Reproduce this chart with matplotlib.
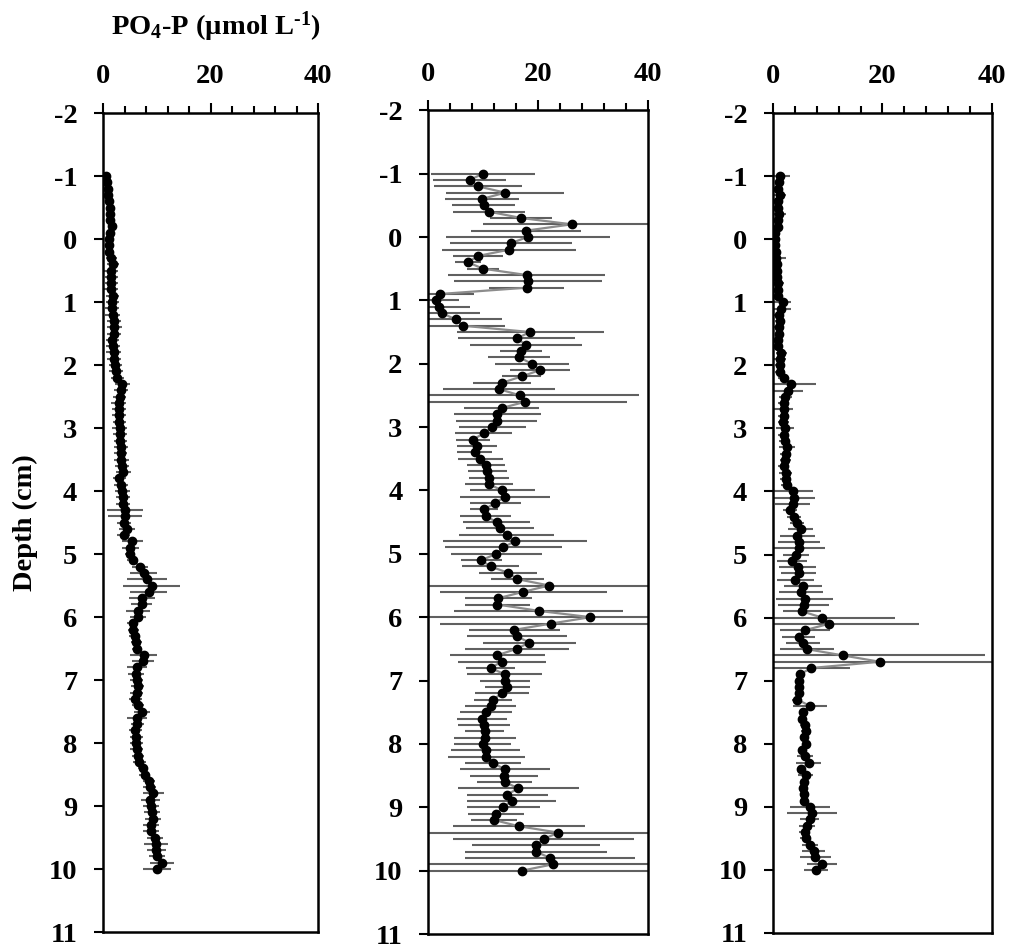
import matplotlib
matplotlib.use('Agg')
import matplotlib.pyplot as plt
import numpy as np
from matplotlib.ticker import MultipleLocator

# depth grid of the porewater profiles (cm), one sample every 0.1 cm
depth = np.round(np.arange(-10, 101) / 10, 1)

# panel 1
po4_a = [0.55, 0.75, 0.85, 1.0, 1.1, 1.25, 1.3, 1.35, 1.75, 1.25,
         1.1, 1.05, 1.1, 1.55, 1.85, 1.55, 1.55, 1.5, 1.55, 1.8,
         1.75, 1.75, 1.85, 2.1, 2.05, 2.0, 1.75, 1.9, 2.0, 2.05,
         2.3, 2.5, 2.65, 3.6, 3.35, 3.1, 2.9, 2.9, 3.0, 3.0,
         3.1, 3.2, 3.2, 3.35, 3.3, 3.35, 3.5, 3.8, 3.05, 3.35,
         3.6, 3.8, 3.65, 4.0, 4.1, 3.95, 4.45, 3.85, 5.45, 5.1,
         5.0, 5.5, 6.95, 7.55, 8.2, 9.1, 8.5, 7.2, 7.2, 6.5,
         6.5, 5.5, 5.65, 5.9, 6.2, 6.3, 7.55, 7.45, 6.3, 6.2,
         6.3, 6.45, 6.3, 6.0, 6.5, 7.25, 6.3, 6.4, 6.0, 6.2,
         6.2, 6.3, 6.5, 6.75, 7.45, 7.75, 8.55, 8.7, 9.3, 8.8,
         9.0, 9.1, 9.25, 9.0, 8.85, 9.65, 9.85, 9.9, 10.05, 10.95,
         10.05]
err_a = [0.3, 0.3, 0.4, 0.4, 0.4, 0.4, 0.4, 0.5,
         0.6, 0.5, 0.5, 0.6, 0.8, 1.0,
         1.2, 1.3, 1.2, 1.2, 1.3, 1.2, 1.2, 1.3, 1.4, 1.3,
         1.4, 1.3, 1.2, 1.3, 1.4, 1.3, 1.2, 1.3, 1.2, 1.4,
         1.3, 1.2, 1.4, 1.3, 1.3, 1.2, 1.4, 1.3, 1.2, 1.3,
         1.2, 1.4, 1.3, 1.45, 1.2, 1.3, 1.4, 1.3, 1.3, 3.35,
         3.2, 1.3, 1.5, 1.2, 2.0, 1.5, 1.0, 1.0, 1.5, 2.55,
         3.7, 5.3, 3.4, 2.4, 2.0, 2.3, 1.5, 1.0, 1.0, 1.0,
         1.0, 1.0, 2.5, 2.0, 1.9, 1.5, 1.2, 1.2, 1.2, 1.2,
         1.2, 1.5, 1.8, 1.2, 1.2, 1.2, 1.2, 1.2, 1.2, 1.2,
         1.0, 1.0, 1.2, 1.2, 1.95, 1.8, 1.5, 1.5, 1.5, 1.5,
         1.5, 1.5, 2.3, 1.8, 1.5, 2.3, 2.65]

# panel 2
po4_b = [10.0, 7.55, 9.05, 14.0, 9.8, 10.1, 11.1, 16.9, 26.1, 17.8,
         18.1, 15.0, 14.7, 9.05, 7.25, 10.0, 17.9, 18.2, 17.9, 2.1,
         1.5, 2.0, 2.5, 5.0, 6.3, 18.55, 16.1, 17.8, 16.9, 16.6,
         18.85, 20.4, 17.0, 13.5, 12.9, 16.7, 17.7, 13.35, 12.6, 12.45,
         11.7, 10.1, 8.1, 8.9, 8.5, 9.5, 10.5, 10.8, 11.1, 11.05,
         13.5, 13.95, 12.2, 10.2, 10.45, 12.45, 13.05, 14.3, 15.8, 13.65,
         12.4, 9.7, 11.35, 14.55, 16.25, 22.0, 17.3, 12.8, 12.6, 20.1,
         29.5, 22.4, 15.7, 16.1, 18.4, 16.1, 12.6, 13.5, 11.35, 13.9,
         13.95, 14.4, 13.5, 11.8, 11.35, 10.5, 9.8, 10.15, 10.3, 10.4,
         9.9, 10.5, 10.6, 11.8, 13.95, 13.8, 13.9, 16.4, 14.4, 15.2,
         13.65, 12.3, 11.95, 16.55, 23.7, 21.0, 19.6, 19.6, 22.2, 22.7,
         17.1]
err_b = [9.5, 6.7, 8.0, 10.8, 6.7, 5.7, 6.6, 5.7, 16.2, 10.0,
         14.9, 11.1, 12.2, 4.5, 2.4, 2.9, 14.3, 13.4, 6.9, 6.2,
         4.2, 5.6, 6.9, 8.4, 7.6, 13.35, 10.6, 10.1, 3.9, 5.65,
         6.75, 5.45, 3.6, 5.3, 10.1, 21.6, 18.4, 6.75, 7.9, 7.4,
         6.15, 5.2, 3.1, 3.6, 3.2, 4.1, 3.5, 3.6, 3.6, 4.4,
         5.85, 8.2, 4.65, 2.55, 4.6, 6.1, 6.2, 8.6, 13.15, 10.65,
         8.3, 3.75, 5.2, 5.25, 4.9, 25.0, 15.15, 6.1, 5.9, 15.4,
         31.0, 20.2, 8.3, 9.1, 8.45, 9.45, 8.6, 8.0, 4.5, 6.8,
         4.6, 4.1, 4.9, 3.5, 4.6, 4.75, 4.55, 4.8, 3.55, 5.6,
         5.1, 6.25, 7.0, 5.15, 8.2, 6.1, 4.95, 11.05, 7.4, 8.1,
         6.65, 5.1, 4.15, 11.95, 25.0, 16.45, 11.6, 12.85, 15.4, 24.0,
         24.0]

# panel 3
po4_c = [1.35, 1.1, 1.0, 1.2, 1.0, 1.0, 1.15, 1.0, 0.85, 0.45,
         0.3, 0.45, 0.6, 0.6, 0.65, 0.65, 0.8, 0.9, 0.9, 0.9,
         1.75, 1.45, 1.1, 1.2, 1.1, 1.1, 1.0, 0.9, 1.5, 1.35,
         1.35, 1.35, 1.95, 3.3, 2.8, 2.25, 1.95, 1.95, 1.95, 1.85,
         2.2, 1.95, 2.15, 2.55, 2.3, 2.25, 1.95, 2.3, 2.35, 2.55,
         3.65, 3.9, 3.6, 3.1, 3.9, 4.45, 5.1, 4.4, 4.75, 4.75,
         4.2, 3.55, 4.5, 4.7, 4.1, 5.5, 5.1, 5.8, 5.6, 5.3,
         8.95, 10.15, 5.85, 4.7, 5.4, 6.2, 12.8, 19.5, 6.95, 4.95,
         4.8, 4.7, 4.7, 4.45, 6.75, 5.55, 5.35, 5.8, 5.95, 5.7,
         6.1, 5.35, 5.9, 6.5, 5.2, 5.95, 5.7, 5.55, 5.7, 5.7,
         6.8, 7.2, 6.7, 6.2, 5.8, 5.95, 6.8, 7.45, 7.75, 8.95,
         7.85]
err_c = [1.7, 0.8, 0.8, 1.2, 0.9, 0.8, 1.2, 0.8, 0.7, 0.6,
         0.5, 0.6, 0.8, 1.8, 0.9, 0.9, 0.9, 1.1, 0.9, 0.9,
         1.55, 1.8, 0.9, 0.9, 0.9, 0.8, 0.8, 0.8, 1.0, 1.1,
         0.9, 0.9, 1.0, 4.6, 2.6, 1.2, 1.0, 1.7, 1.0, 1.0,
         1.7, 1.0, 1.0, 1.4, 1.0, 1.0, 1.0, 1.2, 1.0, 1.0,
         3.65, 3.85, 3.2, 1.2, 1.3, 1.3, 2.3, 3.2, 3.9, 4.75,
         2.4, 2.75, 3.4, 3.2, 3.35, 3.5, 4.0, 5.25, 4.6, 3.45,
         13.4, 16.5, 4.5, 3.0, 3.1, 5.0, 25.9, 22.0, 7.2, 0.5,
         0.5, 0.5, 0.5, 0.9, 3.1, 0.75, 0.8, 0.8, 0.8, 0.8,
         0.8, 0.8, 1.5, 2.25, 0.85, 1.45, 0.8, 0.8, 0.8, 0.8,
         3.7, 4.55, 1.7, 1.5, 1.0, 1.0, 1.5, 2.1, 2.85, 2.8,
         2.2]

x_ticks = [0, 20, 40]
y_ticks = list(range(-2, 12))

plt.rcParams['font.family'] = 'Liberation Serif'
plt.rcParams['font.weight'] = 'bold'
plt.rcParams['axes.unicode_minus'] = False
plt.rcParams['mathtext.fontset'] = 'custom'
plt.rcParams['mathtext.rm'] = 'Liberation Serif:bold'
plt.rcParams['mathtext.it'] = 'Liberation Serif:bold'
plt.rcParams['mathtext.bf'] = 'Liberation Serif:bold'
plt.rcParams['mathtext.default'] = 'rm'

fig = plt.figure(figsize=(10.12, 9.49), dpi=100)

boxes = [[0.1018, 0.0179, 0.2125, 0.863],
         [0.4230, 0.0158, 0.2174, 0.868],
         [0.7638, 0.0169, 0.2164, 0.864]]
series = [(po4_a, err_a), (po4_b, err_b), (po4_c, err_c)]

axes = []
for box, (vals, errs) in zip(boxes, series):
    ax = fig.add_axes(box)
    ax.errorbar(vals, depth, xerr=errs, fmt='none', ecolor='#606060',
                elinewidth=1.5, capsize=0, zorder=1)
    ax.plot(vals, depth, color='#8c8c8c', lw=1.6, zorder=2)
    ax.plot(vals, depth, 'o', color='black', ms=6, zorder=3)
    ax.set_xlim(0, 40)
    ax.set_ylim(11, -2)
    ax.xaxis.tick_top()
    ax.set_xticks(x_ticks)
    ax.xaxis.set_minor_locator(MultipleLocator(4))
    ax.set_yticks(y_ticks)
    ax.tick_params(axis='x', which='major', direction='out', length=7,
                   width=1.5, pad=10, labelsize=20.5)
    ax.tick_params(axis='x', which='minor', direction='out', length=5,
                   width=1.5)
    ax.tick_params(axis='y', direction='out', length=6.5, width=1.5, pad=12,
                   labelsize=20.5)
    for s in ax.spines.values():
        s.set_linewidth(1.8)
    axes.append(ax)

axes[0].text(-0.363, 0.5, 'Depth (cm)', transform=axes[0].transAxes,
             rotation=90, ha='center', va='center', fontsize=20.5)
fig.text(216 / 1012, 1 - 27 / 949, r'PO$_4$-P (µmol L$^{\text{-1}}$)',
         ha='center', va='center', fontsize=20.5)

fig.savefig('out.png', dpi=100)
